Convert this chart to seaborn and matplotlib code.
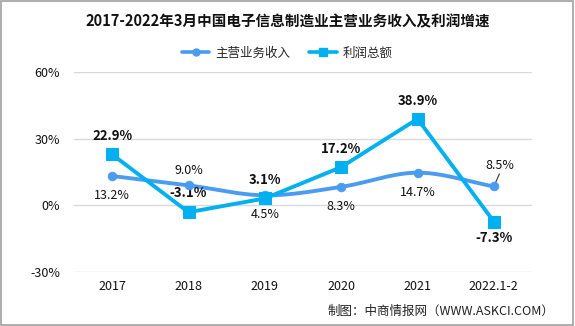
import numpy as np
import pandas as pd
import matplotlib
matplotlib.use("Agg")
import matplotlib.pyplot as plt
import seaborn as sns
from matplotlib.patches import Rectangle

categories = ["2017", "2018", "2019", "2020", "2021", "2022.1-2"]
revenue = [13.2, 9.0, 4.5, 8.3, 14.7, 8.5]
profit = [22.9, -3.1, 3.1, 17.2, 38.9, -7.3]
yticks = [-30, 0, 30, 60]
ytick_labels = ["-30%", "0%", "30%", "60%"]

sns.set_theme(style="white")
plt.rcParams['font.family'] = ['Noto Sans CJK SC', 'DejaVu Sans']
plt.rcParams['axes.unicode_minus'] = False

c_rev = "#4a9cf0"
c_pro = "#00b0f0"

fig = plt.figure(figsize=(5.75, 3.26), dpi=100)
ax = fig.add_axes([74/575, 1-272/326, 458/575, 200/326])

df = pd.DataFrame({"x": np.arange(len(categories)), "rev": revenue, "pro": profit})

# smooth curve for revenue (Catmull-Rom through the data points)
def catmull(xs, ys, n=30):
    xs = np.asarray(xs, float); ys = np.asarray(ys, float)
    px = np.concatenate([[2*xs[0]-xs[1]], xs, [2*xs[-1]-xs[-2]]])
    py = np.concatenate([[2*ys[0]-ys[1]], ys, [2*ys[-1]-ys[-2]]])
    ox, oy = [], []
    for i in range(1, len(px)-2):
        t = np.linspace(0, 1, n, endpoint=False)
        for arr, out in ((px, ox), (py, oy)):
            p0, p1, p2, p3 = arr[i-1], arr[i], arr[i+1], arr[i+2]
            out.extend(0.5*((2*p1) + (-p0+p2)*t + (2*p0-5*p1+4*p2-p3)*t**2 + (-p0+3*p1-3*p2+p3)*t**3))
    ox.append(xs[-1]); oy.append(ys[-1])
    return np.array(ox), np.array(oy)

sx, sy = catmull(df["x"], df["rev"])
sdf = pd.DataFrame({"x": sx, "y": sy})
sns.lineplot(data=sdf, x="x", y="y", ax=ax, color=c_rev, linewidth=2.8, sort=False, zorder=3)
sns.scatterplot(data=df, x="x", y="rev", ax=ax, color=c_rev, s=40, marker="o", edgecolor=c_rev, zorder=4)
sns.lineplot(data=df, x="x", y="pro", ax=ax, color=c_pro, linewidth=2.8, marker="s",
             markersize=8.5, markeredgecolor=c_pro, zorder=5)

ax.set_xlim(-0.5, len(categories)-0.5)
ax.set_ylim(-30, 60)
ax.set_yticks(yticks)
ax.set_yticklabels(ytick_labels)
ax.set_xticks(df["x"])
ax.set_xticklabels(categories)
ax.set_xlabel("")
ax.set_ylabel("")
ax.grid(axis="y", color="#d9d9d9", linewidth=1)
ax.set_axisbelow(True)
for s in ax.spines.values():
    s.set_visible(False)
ax.tick_params(axis="both", length=0, labelsize=9, colors="#111111")
ax.tick_params(axis="y", pad=10)
ax.tick_params(axis="x", pad=6)

# revenue labels (normal)
rev_off = [(0, -14), (0, 11), (0, -14), (0, -14), (0, -14), (0, 13)]
for i, v in enumerate(revenue):
    dx, dy = rev_off[i]
    if i == len(revenue) - 1:
        ax.annotate("", xy=(i, v), xytext=(4, 9), textcoords="offset points",
                    arrowprops=dict(arrowstyle="-", color="#333333", lw=0.8,
                                    shrinkA=0, shrinkB=2))
        ax.annotate(f"{v:.1f}%", xy=(i, v), xytext=(4, 15), textcoords="offset points",
                    ha="center", va="center", fontsize=9, color="#111111")
    else:
        ax.annotate(f"{v:.1f}%", xy=(i, v), xytext=(dx, dy), textcoords="offset points",
                    ha="center", va="center", fontsize=9, color="#111111")

pro_off = [(0, 13), (0, 14), (0, 13), (0, 13), (0, 13), (0, -12)]
for i, v in enumerate(profit):
    dx, dy = pro_off[i]
    ax.annotate(f"{v:.1f}%", xy=(i, v), xytext=(dx, dy), textcoords="offset points",
                ha="center", va="center", fontsize=9.5, fontweight="bold", color="#111111")

# legend
from matplotlib.lines import Line2D
handles = [Line2D([], [], color=c_rev, lw=2.6, marker="o", markersize=5),
           Line2D([], [], color=c_pro, lw=2.6, marker="s", markersize=6)]
fig.legend(handles, ["主营业务收入", "利润总额"], loc="center", bbox_to_anchor=(0.5, 1-53/326),
           ncol=2, frameon=False, fontsize=9, handlelength=2.2, columnspacing=1.5, handletextpad=0.5)

fig.text(0.5, 1-21/326, "2017-2022年3月中国电子信息制造业主营业务收入及利润增速",
         ha="center", va="center", fontsize=10.5, fontweight="bold", color="#111111")
fig.text(0.965, 1-311/326, "制图：中商情报网（WWW.ASKCI.COM）", ha="right", va="center",
         fontsize=9, color="#222222")

fig.patches.append(Rectangle((0.001, 0.004), 0.996, 0.994, transform=fig.transFigure,
                             fill=False, edgecolor="#a0a0a0", linewidth=1.2))

fig.savefig("out.png", dpi=100, facecolor="white")
